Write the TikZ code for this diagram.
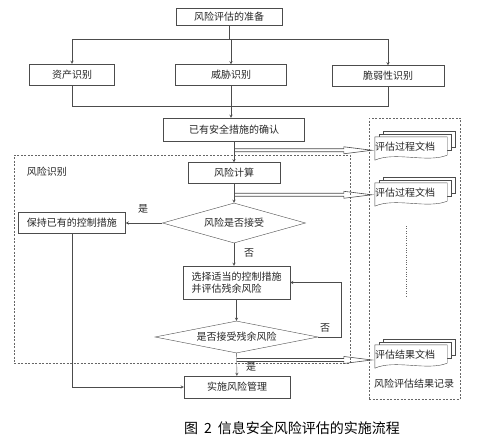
\documentclass[tikz,border=0pt]{standalone}
\usepackage{fontspec}
\setmainfont{Noto Sans CJK SC}
\usetikzlibrary{positioning, calc, shapes.geometric, backgrounds}

% hollow band arrow from a point on the main flow to a document stack
\newcommand{\hollowarr}[2]{%
  \draw[hollow] let \p1=(#1), \p2=(#2) in
    (\x1,\y1+1.5pt) -- (\x2-31pt,\y1+1.5pt) -- (\x2-31pt,\y1+3.5pt) -- (\x2-3pt,\y1)
    -- (\x2-31pt,\y1-3.5pt) -- (\x2-31pt,\y1-1.5pt) -- (\x1,\y1-1.5pt);}

% stacked document sheets behind a named node
\newcommand{\docstack}[1]{%
  \begin{scope}[on background layer]
    \draw[docpaper] ([shift={(8pt,6pt)}]#1.north west) rectangle ([shift={(8pt,10pt)}]#1.south east);
    \draw[docpaper] ([shift={(4pt,3pt)}]#1.north west) rectangle ([shift={(4pt,7pt)}]#1.south east);
    \draw[docpaper] (#1.north west) -- (#1.north east) -- ([yshift=2pt]#1.south east)
      .. controls ([shift={(-20pt,-6pt)}]#1.south east) and ([shift={(20pt,6pt)}]#1.south west) .. ([yshift=-3pt]#1.south west) -- cycle;
  \end{scope}}

\begin{document}
\begin{tikzpicture}[
                x=1pt, y=-1pt,
                box/.style={draw=black!70, rectangle, minimum height=21pt, inner sep=2pt, font=\fontsize{10}{12}\selectfont, text=black!85},
                choice/.style={draw=black!70, diamond, aspect=4.5, inner sep=0pt, font=\fontsize{10}{12}\selectfont, text=black!85},
                arr/.style={->, >=stealth, draw=black!70},
                line/.style={draw=black!70},
                lbl/.style={font=\fontsize{10}{12}\selectfont, text=black!85, inner sep=0pt},
                zone/.style={draw=black!60, dash pattern=on 2pt off 1.5pt, inner sep=0pt},
                hollow/.style={draw=black!70, line width=0.6pt},
                docnode/.style={inner xsep=0pt, inner ysep=0pt, text width=72pt, align=left, minimum height=20pt, font=\fontsize{10}{12}\selectfont, text=black!85},
                docpaper/.style={draw=black!70, fill=white},
            ]
            \useasboundingbox (0,0) rectangle (500,441);

            % === preparation and identification ===
            \node[box, minimum width=106pt, minimum height=17pt] (prep) at (229,16.5) {风险评估的准备};
            \node[box, minimum width=85pt] (asset) at (72,74.5) {资产识别};
            \node[box, minimum width=111pt] (threat) at (231,75) {威胁识别};
            \node[box, minimum width=112pt] (vuln) at (388,76) {脆弱性识别};
            \node[box, minimum width=141pt, minimum height=23pt] (confirm) at (234,129.5) {已有安全措施的确认};

            \draw[line] (prep.south) -- ++(0,14) coordinate (fork);
            \draw[line] (fork -| asset.north) -- (fork -| vuln.north);
            \foreach \n in {asset, threat, vuln} {
                \draw[arr] (fork -| \n.north) -- (\n.north);
            }
            \coordinate (join) at (231,106);
            \draw[line] (asset.south) -- (asset.south |- join) -- (vuln.south |- join) -- (vuln.south);
            \draw[line] (threat.south) -- (threat.south |- join);
            \draw[arr] (threat.south |- join) -- (threat.south |- confirm.north);

            % === risk identification zone ===
            \node[zone, minimum width=336pt, minimum height=208pt] (riskzone) at (182,259) {};
            \node[lbl] (zonelbl) at (47,172) {风险识别};

            \node[box, minimum width=92pt] (calc) at (234,173) {风险计算};
            \node[choice, minimum width=143pt, minimum height=40pt] (accept) at (234,223) {风险是否接受};
            \node[box, minimum width=107pt] (keep) at (72,222.5) {保持已有的控制措施};
            \node[box, minimum width=107pt, minimum height=33pt, align=left] (select) at (236.5,282.5) {选择适当的控制措施\\并评估残余风险};
            \node[choice, minimum width=163pt, minimum height=32pt] (residual) at (236.5,337) {是否接受残余风险};
            \node[box, minimum width=106pt, minimum height=22pt] (manage) at (237,387) {实施风险管理};

            \draw[arr] (confirm) -- (calc);
            \draw[arr] (calc) -- (accept);
            \draw[arr] (accept.west) -- (accept.west -| keep.east);
            \draw[arr] (accept.south) -- (accept.south |- select.north);
            \draw[arr] (select) -- (residual);
            \draw[arr] (residual.east) -- ++(23,0) |- (select.east);
            \draw[arr] (residual) -- (manage);
            \draw[arr] (keep.south) |- (manage.west);

            \node[lbl] (yes1) at (143,209) {是};
            \node[lbl] (no1) at (249,253) {否};
            \node[lbl] (no2) at (325,328) {否};
            \node[lbl] (yes2) at (251,367) {是};

            % === records ===
            \node[zone, minimum width=91pt, minimum height=281pt] (records) at (414.5,258.5) {};
            \node[lbl] (recordlbl) at (414,384) {风险评估结果记录};
            \node[docnode] (doc1) at (411,147) {评估过程文档};
            \node[docnode] (doc2) at (411,193) {评估过程文档};
            \node[docnode] (doc3) at (411,355) {评估结果文档};
            \foreach \d in {doc1, doc2, doc3} {
                \docstack{\d}
            }
            \draw[black!60, dotted] (406,226) -- (406,296);

            \coordinate (h1) at ($(confirm.south)!0.43!(calc.north)$);
            \coordinate (h2) at ($(calc.south)!0.58!(accept.north)$);
            \coordinate (h3) at ($(residual.south)!0.3!(manage.north)$);
            \hollowarr{h1}{doc1.west}
            \hollowarr{h2}{doc2.west}
            \hollowarr{h3}{doc3.west}

            % === caption ===
            \node[font=\fontsize{14}{16}\selectfont] (caption) at (292,428) {图\hspace{6pt}2\hspace{6pt}信息安全风险评估的实施流程};
            \end{tikzpicture}
\end{document}
